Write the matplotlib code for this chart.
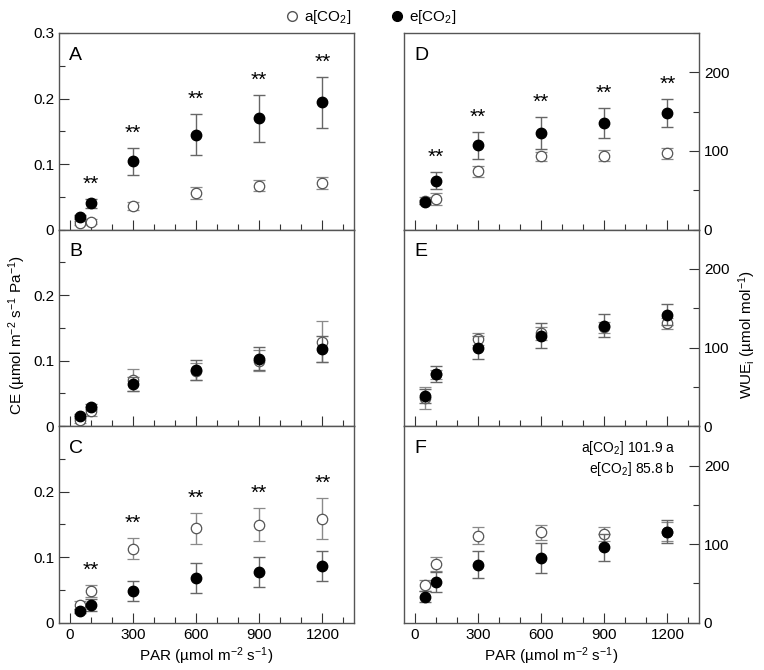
import matplotlib
matplotlib.use("Agg")
import matplotlib.pyplot as plt
from matplotlib.ticker import MultipleLocator
from matplotlib.lines import Line2D

plt.rcParams['font.family'] = ['Liberation Sans', 'DejaVu Sans']
plt.rcParams['mathtext.fontset'] = 'custom'
plt.rcParams['mathtext.rm'] = 'Liberation Sans'
plt.rcParams['mathtext.it'] = 'Liberation Sans:italic'

par = [50, 100, 300, 600, 900, 1200]

# CE panels (A, B, C)
ce_a_A = [0.010, 0.012, 0.036, 0.056, 0.067, 0.071]
ce_a_A_err = [0.003, 0.004, 0.006, 0.009, 0.008, 0.009]
ce_e_A = [0.019, 0.040, 0.104, 0.145, 0.170, 0.194]
ce_e_A_err = [0.003, 0.007, 0.021, 0.031, 0.036, 0.039]
stars_A = [False, True, True, True, True, True]

ce_a_B = [0.010, 0.023, 0.070, 0.084, 0.100, 0.129]
ce_a_B_err = [0.005, 0.007, 0.017, 0.013, 0.016, 0.031]
ce_e_B = [0.016, 0.030, 0.064, 0.086, 0.103, 0.118]
ce_e_B_err = [0.003, 0.004, 0.011, 0.015, 0.018, 0.020]
stars_B = [False] * 6

ce_a_C = [0.027, 0.048, 0.113, 0.144, 0.150, 0.159]
ce_a_C_err = [0.006, 0.009, 0.016, 0.024, 0.025, 0.031]
ce_e_C = [0.018, 0.027, 0.049, 0.069, 0.077, 0.087]
ce_e_C_err = [0.003, 0.009, 0.015, 0.023, 0.023, 0.023]
stars_C = [False, True, True, True, True, True]

# WUEi panels (D, E, F)
wue_a_D = [37, 39, 74, 93, 94, 97]
wue_a_D_err = [4, 8, 7, 6, 7, 7]
wue_e_D = [35, 62, 107, 123, 135, 148]
wue_e_D_err = [3, 11, 17, 20, 19, 18]
stars_D = [False, True, True, True, True, True]

wue_a_E = [36, 66, 111, 118, 126, 131]
wue_a_E_err = [14, 6, 8, 8, 7, 7]
wue_e_E = [38, 66, 100, 115, 128, 142]
wue_e_E_err = [9, 10, 15, 16, 15, 13]
stars_E = [False] * 6

wue_a_F = [48, 75, 111, 115, 113, 116]
wue_a_F_err = [7, 9, 11, 10, 9, 12]
wue_e_F = [33, 52, 74, 82, 96, 116]
wue_e_F_err = [7, 13, 17, 19, 17, 15]
stars_F = [False] * 6

f_notes = ["a[CO$_2$] 101.9 a", "e[CO$_2$] 85.8 b"]
x_ticks = [0, 300, 600, 900, 1200]

fig = plt.figure(figsize=(7.64, 6.7), dpi=100)

left_x, right_x, w = 59 / 764, 404 / 764, 295 / 764
top_px, h_px = 33, 196.6

panels = [
    ("A", left_x, 0, ce_a_A, ce_a_A_err, ce_e_A, ce_e_A_err, stars_A),
    ("B", left_x, 1, ce_a_B, ce_a_B_err, ce_e_B, ce_e_B_err, stars_B),
    ("C", left_x, 2, ce_a_C, ce_a_C_err, ce_e_C, ce_e_C_err, stars_C),
    ("D", right_x, 0, wue_a_D, wue_a_D_err, wue_e_D, wue_e_D_err, stars_D),
    ("E", right_x, 1, wue_a_E, wue_a_E_err, wue_e_E, wue_e_E_err, stars_E),
    ("F", right_x, 2, wue_a_F, wue_a_F_err, wue_e_F, wue_e_F_err, stars_F),
]

spine_col = "#555555"
axes = {}
for name, x0, row, a, aerr, e, eerr, stars in panels:
    bottom = 1 - (top_px + (row + 1) * h_px) / 670
    ax = fig.add_axes([x0, bottom, w, h_px / 670])
    axes[name] = ax
    is_wue = x0 == right_x
    ytop = 250 if is_wue else 0.3

    ax.errorbar(par, a, yerr=aerr, fmt='o', mfc='white', mec='#555555', mew=0.9,
                ms=7.5, ecolor='#8a8a8a', elinewidth=1.0, capsize=4, capthick=1.0,
                zorder=2)
    ax.errorbar(par, e, yerr=eerr, fmt='o', mfc='black', mec='black',
                ms=7.5, ecolor='#666666', elinewidth=1.0, capsize=4, capthick=1.0,
                zorder=3)

    for xi, ai, ae, ei, ee, s in zip(par, a, aerr, e, eerr, stars):
        if s:
            top = max(ai + ae, ei + ee)
            ax.text(xi, top + 0.075 * ytop, "**", ha='center', va='center', fontsize=15)

    ax.set_xlim(-50, 1350)
    ax.set_ylim(0, ytop)
    ax.set_xticks(x_ticks)
    ax.xaxis.set_minor_locator(MultipleLocator(100))
    if is_wue:
        ax.yaxis.tick_right()
        ax.set_yticks([0, 100, 200])
        ax.yaxis.set_minor_locator(MultipleLocator(50))
    else:
        if name == "A":
            ax.set_yticks([0, 0.1, 0.2, 0.3])
            ax.set_yticklabels(["0", "0.1", "0.2", "0.3"])
        else:
            ax.set_yticks([0, 0.1, 0.2])
            ax.set_yticklabels(["0", "0.1", "0.2"])
        ax.yaxis.set_minor_locator(MultipleLocator(0.05))
    ax.tick_params(which='both', direction='in', colors='#333333', labelcolor='black',
                   labelsize=11, top=False)
    ax.tick_params(which='major', length=7, width=0.8)
    ax.tick_params(which='minor', length=4, width=0.8)
    if row < 2:
        ax.tick_params(axis='x', labelbottom=False)
    else:
        ax.set_xticklabels([str(t) for t in x_ticks])
        ax.set_xlabel("PAR (µmol m$^{-2}$ s$^{-1}$)", fontsize=11, labelpad=3)
    for sp in ax.spines.values():
        sp.set_color(spine_col)
        sp.set_linewidth(1.0)
    ax.text(0.035, 0.93, name, transform=ax.transAxes, fontsize=14, ha='left', va='top')

axes["F"].text(0.92, 0.89, f_notes[0], transform=axes["F"].transAxes, ha='right',
               va='center', fontsize=10)
axes["F"].text(0.92, 0.78, f_notes[1], transform=axes["F"].transAxes, ha='right',
               va='center', fontsize=10)

fig.text(0.022, 0.5, "CE (µmol m$^{-2}$ s$^{-1}$ Pa$^{-1}$)", rotation=90,
         ha='center', va='center', fontsize=11)
fig.text(0.978, 0.5, "WUE$_\\mathrm{i}$ (µmol mol$^{-1}$)", rotation=90,
         ha='center', va='center', fontsize=11)

handles = [Line2D([], [], ls='none', marker='o', mfc='white', mec='#555555', ms=7),
           Line2D([], [], ls='none', marker='o', mfc='black', mec='black', ms=7)]
labels = ["a[CO$_2$]", "e[CO$_2$]"]
fig.legend(handles, labels, loc='upper center', bbox_to_anchor=(0.485, 1.008), ncol=2,
           frameon=False, fontsize=11, handletextpad=0.3, columnspacing=2.5,
           handlelength=1.0)

fig.savefig("out.png", dpi=100)
